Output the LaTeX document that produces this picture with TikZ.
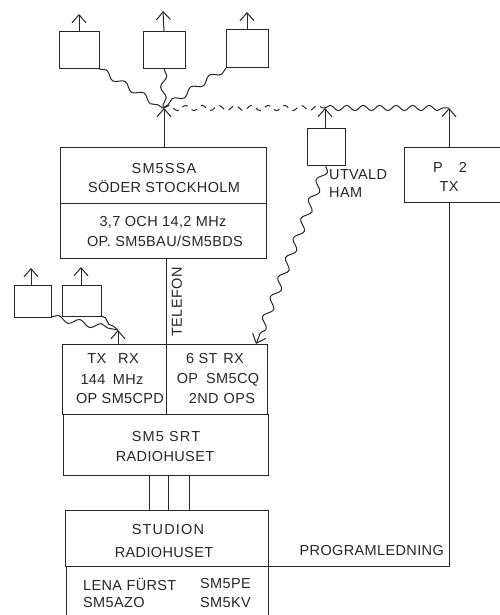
\documentclass[tikz,border=0pt]{standalone}
\usepackage{fontspec}
\setmainfont[LetterSpace=2.5]{Liberation Sans}
\usetikzlibrary{arrows.meta,decorations.pathmorphing}
\tikzset{
  ink/.style={draw=black!85,line width=1pt},
  bx/.style={ink,anchor=north west,inner sep=0pt,outer sep=0pt},
  lbl/.style={inner sep=0pt,text=black!85,font=\fontsize{14.5}{16}\selectfont},
  wide/.style={font=\fontsize{14.5}{16}\selectfont\addfontfeature{LetterSpace=8}},
  barb/.style={-{Straight Barb[length=8pt,width=14pt,line width=1pt]}},
  uparrow/.style={ink,barb},
  wave/.style={ink,decorate,decoration={snake,segment length=22pt,amplitude=3pt}},
  wavefine/.style={ink,decorate,decoration={snake,segment length=16.5pt,amplitude=2.6pt}},
  wavearrow/.style={ink,barb,decorate,decoration={snake,segment length=21pt,amplitude=4pt,post length=10pt}},
  dashwave/.style={wavefine,dash pattern=on 6pt off 5pt},
  plain/.style={ink}
}
\begin{document}
\begin{tikzpicture}[x=1pt,y=-1pt]
\useasboundingbox (0,0) rectangle (499,615);
% top boxes
\node[bx,minimum width=40pt,minimum height=37pt] (t1) at (59,32) {};
\node[bx,minimum width=42pt,minimum height=37pt] (t2) at (143,32) {};
\node[bx,minimum width=42pt,minimum height=38pt] (t3) at (226,30) {};
\coordinate (t1a) at (79,14);
\coordinate (t2a) at (163,11);
\coordinate (t3a) at (247,12);
\draw[uparrow] (t1.north) -- (t1a);
\draw[uparrow] (t2.north) -- (t2a);
\draw[uparrow] (t3.north) -- (t3a);
\coordinate (hub) at (164,108);
\coordinate (hubin) at (163,108);
% SSA
\node[bx,minimum width=206pt,minimum height=56pt] (ssa) at (60,147) {};
\node[bx,minimum width=206pt,minimum height=55pt] (ssb) at (60,203) {};
\node[lbl,wide] (s1) at (164,169) {SM5SSA};
\node[lbl] (s2) at (164,187) {SÖDER STOCKHOLM};
\node[lbl] (s3) at (163,222) {3,7 OCH 14,2 MHz};
\node[lbl] (s4) at (165,241) {OP. SM5BAU/SM5BDS};
\draw[uparrow] (ssa.north -| hub) -- (hub);
\draw[wave] (t1.south east) -- (hubin);
\draw[wave] (t2.south) -- (hubin);
\draw[wave] (t3.south west) -- (hubin);
% Utvald
\node[bx,minimum width=38pt,minimum height=37pt] (uh) at (307,128) {};
\coordinate (ua) at (325,108);
\draw[uparrow] (uh.north -| ua) -- (ua);
\node[lbl,anchor=west] (u1) at (329,175) {UTVALD};
\node[lbl,anchor=west] (u2) at (329,193) {HAM};
% P2
\node[bx,minimum width=96pt,minimum height=55pt] (p2) at (404,147) {};
\coordinate (pa) at (449,108);
\draw[uparrow] (p2.north -| pa) -- (pa);
\node[lbl] (p2a) at (450,167) {P\hspace{16pt}2};
\node[lbl] (p2b) at (449,187) {TX};
\draw[dashwave] (hub) -- (ua);
\draw[wavefine] (ua) -- (pa);
% lower stack
\node[bx,minimum width=104pt,minimum height=70pt] (tx) at (62,344) {};
\node[bx,minimum width=101pt,minimum height=70pt] (rx) at (166,344) {};
\node[bx,minimum width=205pt,minimum height=61pt] (srt) at (63,414) {};
\node[bx,minimum width=203pt,minimum height=56pt] (stu) at (65,510) {};
\node[bx,minimum width=202pt,minimum height=55pt] (lena) at (66,566) {};
\draw[plain] (ssb.south -| rx.north west) -- (rx.north west);
\node[lbl,rotate=90] (tel) at (177,302) {TELEFON};
\coordinate (rxin) at (256,344);
\draw[wavearrow] (uh.south) -- (rxin);
\node[lbl] (x1) at (113,359) {TX\hspace{12pt}RX};
\node[lbl] (x2) at (112,380) {144\hspace{3pt} MHz};
\node[lbl] (x3) at (120,399) {OP SM5CPD};
\node[lbl] (y1) at (215,359) {6 ST\hspace{6pt}RX};
\node[lbl] (y2) at (218,380) {OP\hspace{8pt}SM5CQ};
\node[lbl] (y3) at (222,399) {2ND\hspace{5pt}OPS};
\node[lbl,wide] (r1) at (166,437) {SM5 SRT};
\node[lbl] (r2) at (165,457) {RADIOHUSET};
\node[lbl,wide] (r3) at (168,530) {STUDION};
\node[lbl] (r4) at (164,553) {RADIOHUSET};
\node[lbl,anchor=west] (l1) at (83,584) {LENA FÜRST};
\node[lbl,anchor=west] (l2) at (200,584) {SM5PE};
\node[lbl,anchor=west] (l3) at (83,602) {SM5AZO};
\node[lbl,anchor=west] (l4) at (200,602) {SM5KV};
\node[lbl,anchor=east] (pl) at (444,551) {PROGRAMLEDNING};
% three cables
\coordinate (c1) at (149,475);\coordinate (c2) at (168,475);\coordinate (c3) at (189,475);
\draw[plain] (c1) -- (c1 |- stu.north);
\draw[plain] (c2) -- (c2 |- stu.north);
\draw[plain] (c3) -- (c3 |- stu.north);
% programledning
\draw[plain] (p2.south -| pa) -- (pa |- lena.north) -- (lena.north east);
% left small boxes
\node[bx,minimum width=37pt,minimum height=32pt] (a) at (14,285) {};
\node[bx,minimum width=39pt,minimum height=31pt] (b) at (62,285) {};
\coordinate (aa) at (31,268);
\coordinate (ba) at (81,267);
\draw[uparrow] (a.north -| aa) -- (aa);
\draw[uparrow] (b.north -| ba) -- (ba);
\coordinate (txa) at (118,330);
\draw[uparrow] (tx.north -| txa) -- (txa);
\draw[ink,decorate,decoration={snake,segment length=22pt,amplitude=3pt}] (a.south east) -- (txa);
\draw[ink,decorate,decoration={snake,segment length=14pt,amplitude=1.5pt}] (b.south east) -- (txa);
\end{tikzpicture}
\end{document}
